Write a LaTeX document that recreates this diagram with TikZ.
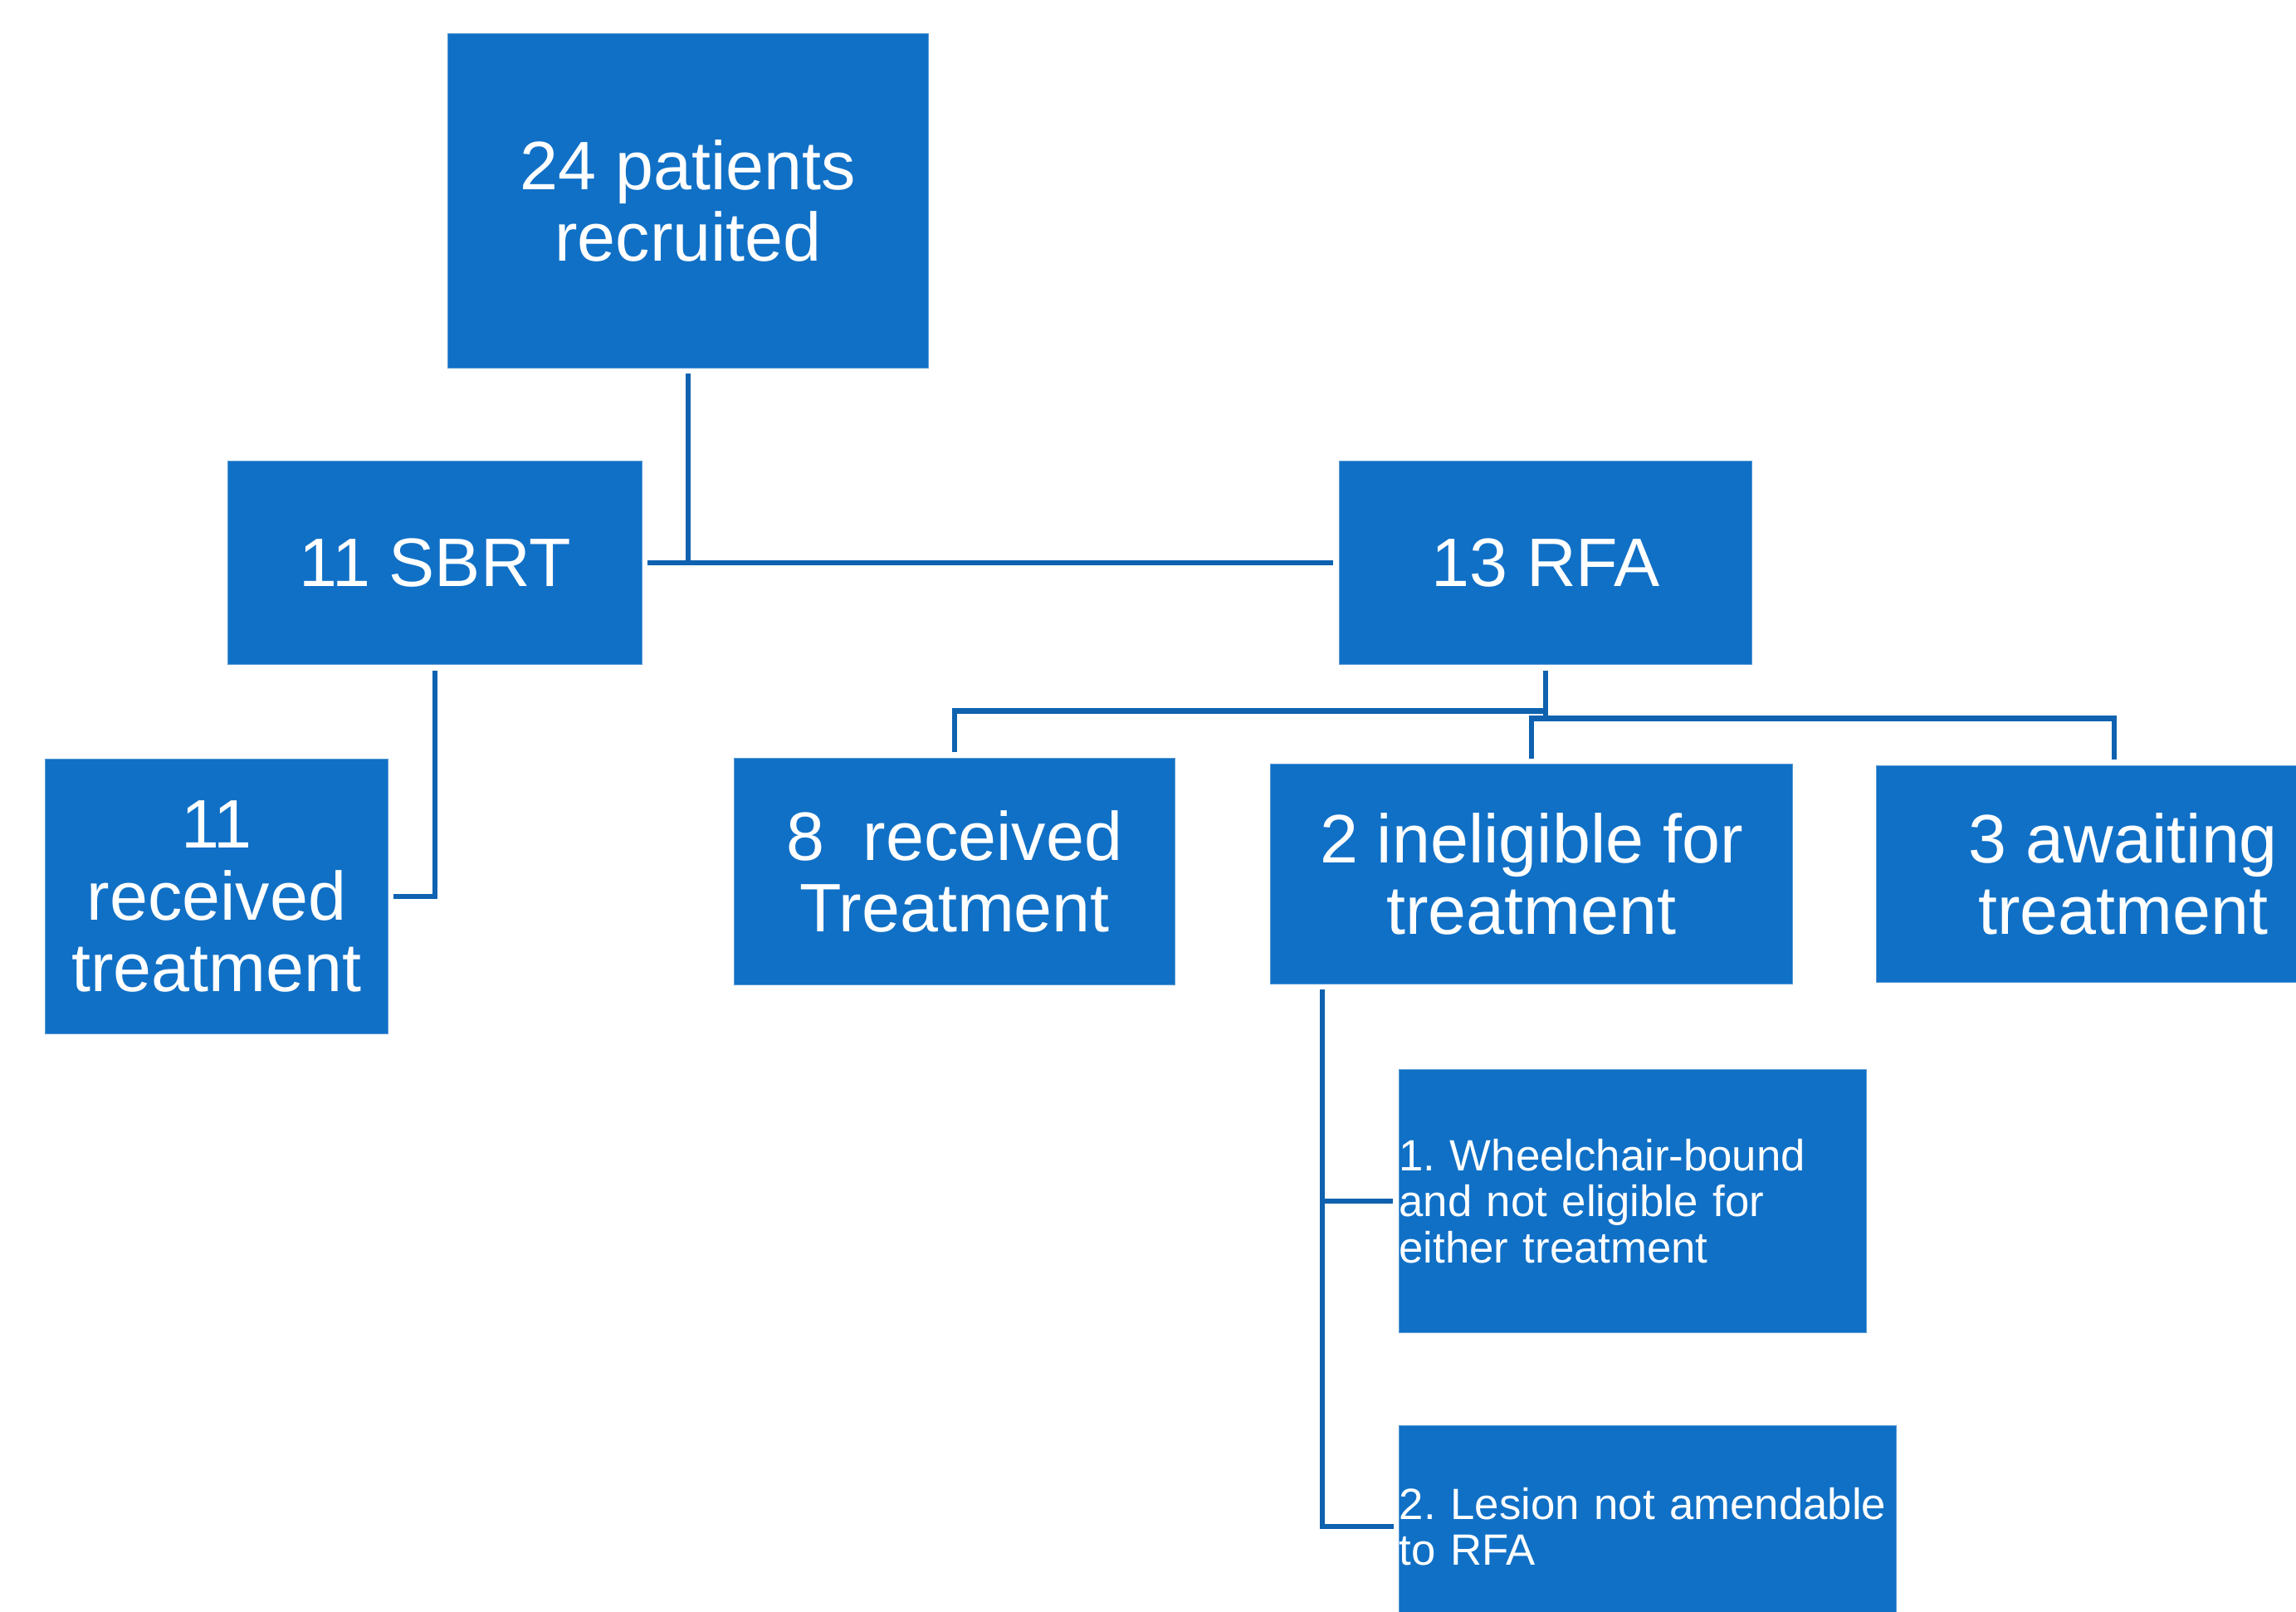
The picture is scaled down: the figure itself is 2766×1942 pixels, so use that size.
\documentclass[tikz,border=0pt]{standalone}
\usepackage{fontspec}
\setmainfont{Liberation Sans}
\frenchspacing
\usetikzlibrary{positioning}
\definecolor{boxblue}{RGB}{16,112,198}
\definecolor{edgeblue}{RGB}{91,155,213}
\definecolor{linkblue}{RGB}{14,98,176}
\begin{document}
\begin{tikzpicture}[x=0.01cm,y=-0.01cm,
		box/.style={fill=boxblue,draw=edgeblue,line width=0.3pt,text=white,align=center,
			inner sep=0pt,outer sep=2pt,font=\fontsize{23.5}{24.7}\selectfont},
		note/.style={box,align=left,font=\fontsize{15}{15.7}\selectfont},
		link/.style={draw=linkblue,line width=1.9pt}]
		\path[use as bounding box,clip] (0,0) rectangle (2766,1942);
		\fill[white] (0,0) rectangle (2766,1942);
		% boxes, placed at pixel centres
		\node[box,minimum width=5.78cm,minimum height=4.02cm] (top) at (829,242) {24 patients\\recruited};
		\node[box,minimum width=4.98cm,minimum height=2.45cm] (sbrt) at (524,678) {11 SBRT};
		\node[box,minimum width=4.97cm,minimum height=2.45cm] (rfa) at (1862,678) {13 RFA};
		\node[box,minimum width=4.12cm,minimum height=3.31cm] (recv11) at (261,1080) {11\\received\\treatment};
		\node[box,minimum width=5.30cm,minimum height=2.73cm] (recv8) at (1150,1050) {8~~received\\Treatment};
		\node[box,minimum width=6.28cm,minimum height=2.64cm] (inel) at (1845,1053) {2 ineligible for\\treatment};
		\node[box,minimum width=5.72cm,minimum height=2.61cm] (await) at (2547,1053) {\hspace{0.22cm}3 awaiting\\\hspace{0.22cm}treatment};
		\node[note,text width=5.63cm,minimum height=3.16cm] (wheel) at (1967,1447) {1. Wheelchair-bound\\and not eligible for\\either treatment};
		\node[note,text width=5.98cm,minimum height=2.42cm] (lesion) at (1985,1839) {2. Lesion not amendable\\to RFA};
		% connectors
		\draw[link] (top.south) -- (top.south |- sbrt.east);
		\draw[link] (sbrt.east) -- (rfa.west);
		\draw[link] (sbrt.south) |- (recv11.east);
		\draw[link] (rfa.south) -- ++(0,49) -| (recv8.north);
		\draw[link] (rfa.south) -- ++(0,58) coordinate (rfasplit) -| (await.north);
		\draw[link] (inel.north) |- (rfasplit);
		\coordinate (inelfoot) at ([xshift=0.69cm]inel.south west);
		\draw[link] (inelfoot) |- (wheel.west);
		\draw[link] (inelfoot) |- (lesion.west);
	\end{tikzpicture}
\end{document}
